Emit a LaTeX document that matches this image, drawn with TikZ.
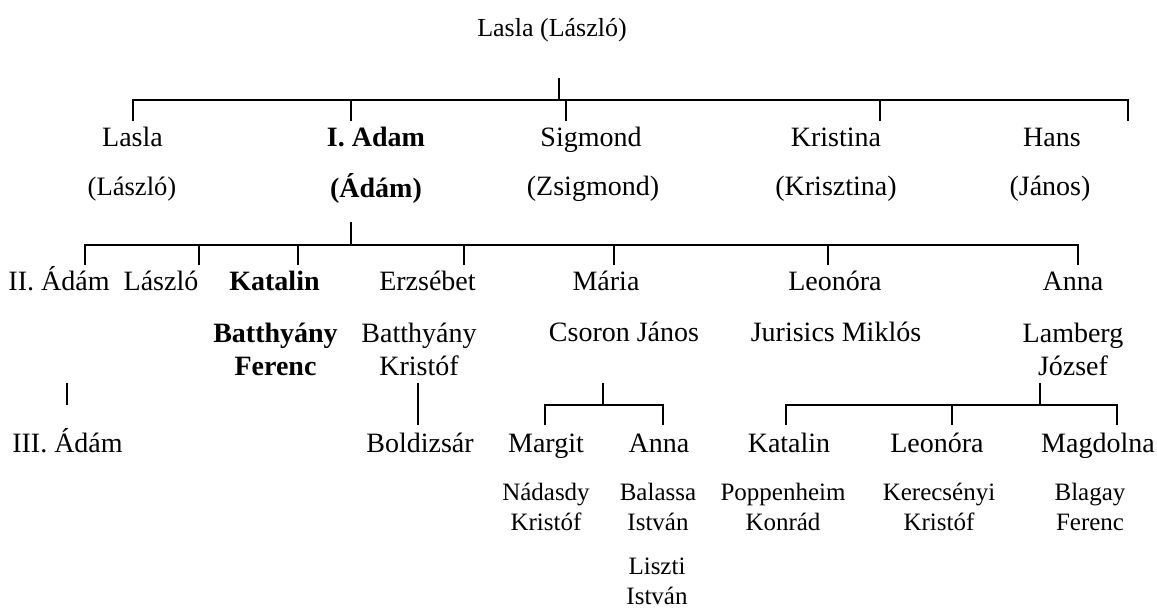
\documentclass[tikz,border=0pt]{standalone}
\usepackage{fontspec}
\setmainfont{Liberation Serif}
\usetikzlibrary{calc}
\tikzset{
  person/.style={inner sep=0pt,anchor=base,align=center,
                 font=\fontsize{14}{16.5}\selectfont},
  boldperson/.style={person,font=\fontsize{14}{16.5}\selectfont\bfseries},
  smallperson/.style={person,font=\fontsize{13.3}{15}\selectfont},
  spouse/.style={person,font=\fontsize{12.5}{15}\selectfont},
  tree/.style={line width=1pt,draw=black}
}

\begin{document}
\begin{tikzpicture}[x=0.5pt,y=-0.5pt]
    \useasboundingbox (0,0) rectangle (1157,609);
    % first generation
    \node[person,font=\fontsize{13}{15}\selectfont] (root) at (552,37)
      {Lasla (László)};
    \foreach \n/\xx/\txt in {lasla/132.5/Lasla,sigmond/591/Sigmond,
                              kristina/836/Kristina,hans/1052/Hans}{
      \node[person] (\n) at (\xx,147) {\txt};
    }
    \node[boldperson] (adam) at (376,147) {I. Adam};
    \node[smallperson] (laszlo) at (132,196) {(László)};
    \node[boldperson] (adamb) at (376,198) {(Ádám)};
    \node[person] (zsigmond) at (593,196) {(Zsigmond)};
    \node[person] (krisztina) at (836,196) {(Krisztina)};
    \node[person] (janos) at (1050,196) {(János)};
    \coordinate (s0) at (558.5,78);
    \coordinate (b0) at (558.5,100);
    \foreach \n/\xx in {lasla/133,adam/351,sigmond/566,kristina/880,hans/1128}
      \coordinate (\n-d) at (\xx,121);
    \draw[tree] (s0) -- (b0);
    \draw[tree] (lasla-d) |- (b0) -| (hans-d);
    \foreach \n in {adam,sigmond,kristina}
      \draw[tree] (\n-d) -- (\n-d |- b0);
    % children of I. Adam
    \foreach \n/\xx/\txt in {adam2/59/II. Ádám,laszlo2/161/László,
                              erzsebet/427.5/Erzsébet,maria/606/Mária,
                              leonora/835/Leonóra,anna/1073/Anna}{
      \node[person] (\n) at (\xx,291) {\txt};
    }
    \node[boldperson] (katalin) at (274.5,291) {Katalin};
    \node[boldperson] (batthyany) at (275.5,375) {Batthyány\\Ferenc};
    \node[person] (kristof) at (419,375) {Batthyány\\Kristóf};
    \node[person] (csoron) at (624,342) {Csoron János};
    \node[person] (jurisics) at (836,342) {Jurisics Miklós};
    \node[person] (lamberg) at (1073,375) {Lamberg\\József};
    \coordinate (s1) at (351,222);
    \coordinate (b1) at (351,245);
    \foreach \n/\xx in {adam2/85,laszlo2/199,katalin/298,erzsebet/464,
                        maria/614,leonora/828,anna/1078}
      \coordinate (\n-d) at (\xx,265);
    \draw[tree] (adam-d |- s1) -- (b1);
    \draw[tree] (adam2-d) |- (b1) -| (anna-d);
    \foreach \n in {laszlo2,katalin,erzsebet,maria,leonora}
      \draw[tree] (\n-d) -- (\n-d |- b1);
    % grandchildren
    \foreach \n/\xx/\txt in {adam3/67.5/III. Ádám,boldizsar/420/Boldizsár,
                              margit/546/Margit,anna3/659/Anna,
                              katalin3/789/Katalin,leonora3/937/Leonóra,
                              magdolna/1098/Magdolna}{
      \node[person] (\n) at (\xx,452) {\txt};
    }
    \node[spouse] (nadasdy) at (546,530) {Nádasdy\\Kristóf};
    \node[spouse] (balassa) at (658,530) {Balassa\\István};
    \node[spouse] (liszti) at (657,604) {Liszti\\István};
    \node[spouse] (poppenheim) at (783,530) {Poppenheim\\Konrád};
    \node[spouse] (kerecsenyi) at (939,530) {Kerecsényi\\Kristóf};
    \node[spouse] (blagay) at (1090,530) {Blagay\\Ferenc};
    \coordinate (adam3-s) at (67,383);
    \coordinate (adam3-d) at (67,405);
    \coordinate (boldizsar-s) at (418,383);
    \coordinate (boldizsar-d) at (418,425);
    \draw[tree] (adam3-s) -- (adam3-d);
    \draw[tree] (boldizsar-s) -- (boldizsar-d);
    \coordinate (s2) at (603,383);
    \coordinate (b2) at (603,405);
    \coordinate (margit-d) at (545,425);
    \coordinate (anna3-d) at (663,425);
    \draw[tree] (s2) -- (b2);
    \draw[tree] (margit-d) |- (b2) -| (anna3-d);
    \coordinate (s3) at (1040,383);
    \coordinate (b3) at (1040,405);
    \coordinate (katalin3-d) at (786,425);
    \coordinate (leonora3-d) at (952,425);
    \coordinate (magdolna-d) at (1117,425);
    \draw[tree] (s3) -- (b3);
    \draw[tree] (katalin3-d) |- (b3) -| (magdolna-d);
    \draw[tree] (leonora3-d) -- (leonora3-d |- b3);
  \end{tikzpicture}
\end{document}
